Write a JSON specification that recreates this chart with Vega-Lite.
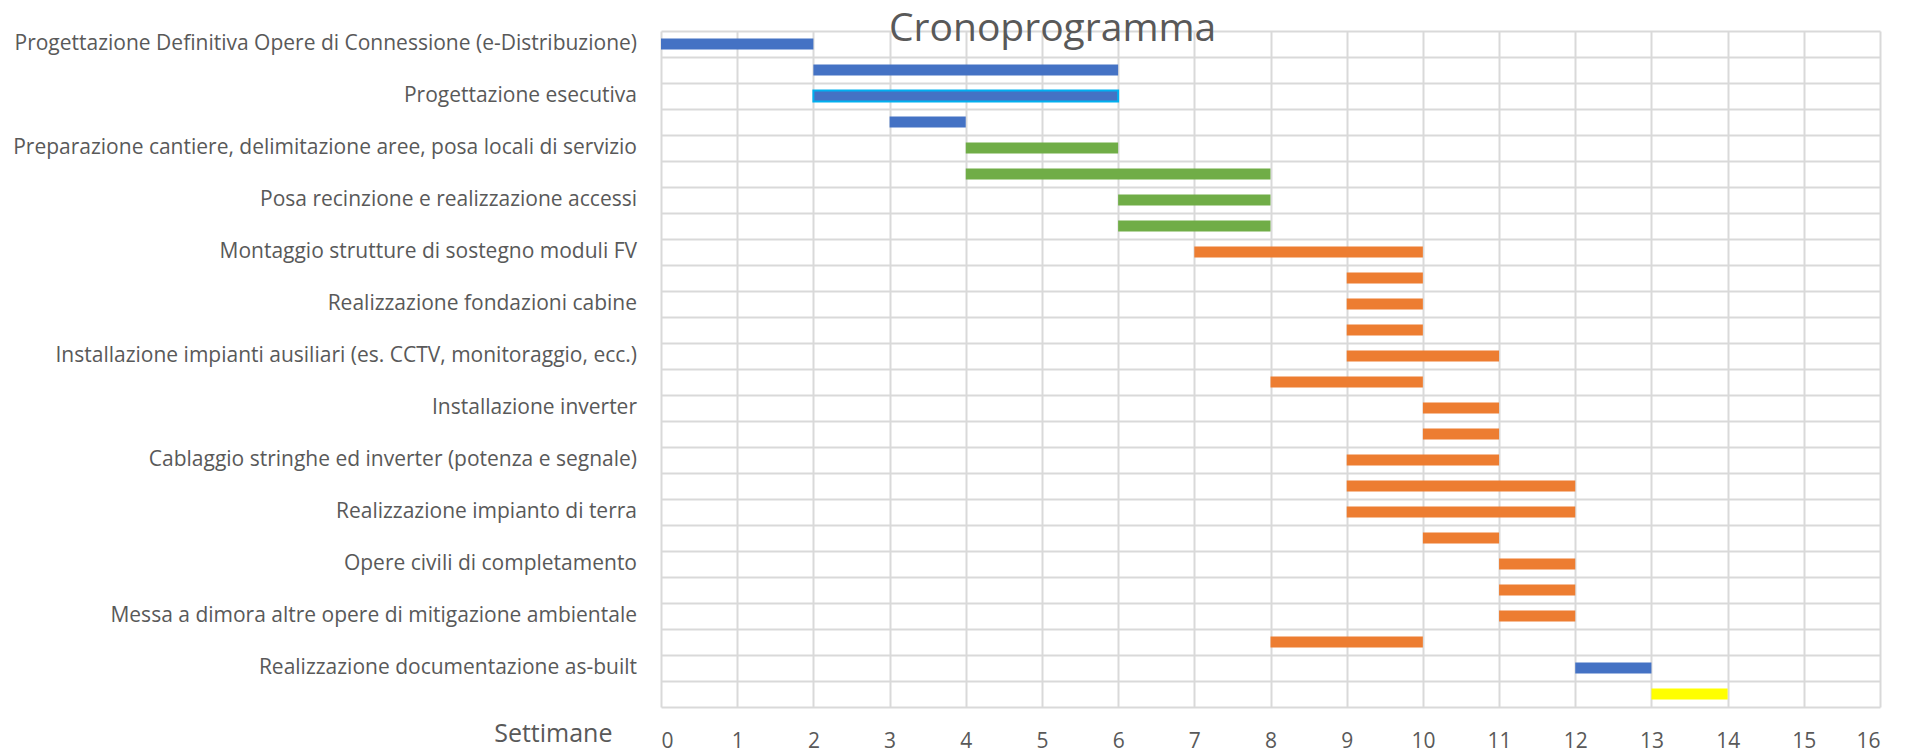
{
  "$schema": "https://vega.github.io/schema/vega-lite/v6.json",
  "autosize": "none",
  "width": 1219,
  "height": 676,
  "padding": {"left": 661, "top": 31, "right": 35, "bottom": 45},
  "background": "white",
  "config": {"view": {"stroke": null}, "font": "Open Sans"},
  "title": {
    "text": "Cronoprogramma",
    "fontSize": 39,
    "font": "Open Sans",
    "fontWeight": "normal",
    "color": "#595959",
    "anchor": "start",
    "frame": "group",
    "dx": 228,
    "baseline": "alphabetic",
    "offset": -49
  },
  "data": {
    "values": [
      {"row": 1, "label": "Progettazione Definitiva Opere di Connessione (e-Distribuzione)", "start": 0, "end": 2, "phase": "A"},
      {"row": 2, "label": "", "start": 2, "end": 6, "phase": "A"},
      {"row": 3, "label": "Progettazione esecutiva", "start": 2, "end": 6, "phase": "A"},
      {"row": 4, "label": "", "start": 3, "end": 4, "phase": "A"},
      {"row": 5, "label": "Preparazione cantiere, delimitazione aree, posa locali di servizio", "start": 4, "end": 6, "phase": "B"},
      {"row": 6, "label": "", "start": 4, "end": 8, "phase": "B"},
      {"row": 7, "label": "Posa recinzione e realizzazione accessi", "start": 6, "end": 8, "phase": "B"},
      {"row": 8, "label": "", "start": 6, "end": 8, "phase": "B"},
      {"row": 9, "label": "Montaggio strutture di sostegno moduli FV", "start": 7, "end": 10, "phase": "C"},
      {"row": 10, "label": "", "start": 9, "end": 10, "phase": "C"},
      {"row": 11, "label": "Realizzazione fondazioni cabine", "start": 9, "end": 10, "phase": "C"},
      {"row": 12, "label": "", "start": 9, "end": 10, "phase": "C"},
      {"row": 13, "label": "Installazione impianti ausiliari (es. CCTV, monitoraggio, ecc.)", "start": 9, "end": 11, "phase": "C"},
      {"row": 14, "label": "", "start": 8, "end": 10, "phase": "C"},
      {"row": 15, "label": "Installazione inverter", "start": 10, "end": 11, "phase": "C"},
      {"row": 16, "label": "", "start": 10, "end": 11, "phase": "C"},
      {"row": 17, "label": "Cablaggio stringhe ed inverter (potenza e segnale)", "start": 9, "end": 11, "phase": "C"},
      {"row": 18, "label": "", "start": 9, "end": 12, "phase": "C"},
      {"row": 19, "label": "Realizzazione impianto di terra", "start": 9, "end": 12, "phase": "C"},
      {"row": 20, "label": "", "start": 10, "end": 11, "phase": "C"},
      {"row": 21, "label": "Opere civili di completamento", "start": 11, "end": 12, "phase": "C"},
      {"row": 22, "label": "", "start": 11, "end": 12, "phase": "C"},
      {"row": 23, "label": "Messa a dimora altre opere di mitigazione ambientale", "start": 11, "end": 12, "phase": "C"},
      {"row": 24, "label": "", "start": 8, "end": 10, "phase": "C"},
      {"row": 25, "label": "Realizzazione documentazione as-built", "start": 12, "end": 13, "phase": "A"},
      {"row": 26, "label": "", "start": 13, "end": 14, "phase": "D"}
    ]
  },
  "encoding": {
    "y": {
      "field": "row",
      "type": "ordinal",
      "sort": "ascending",
      "scale": {"paddingInner": 0, "paddingOuter": 0},
      "axis": {
        "title": null,
        "labels": false,
        "ticks": false,
        "domain": false,
        "grid": true,
        "bandPosition": 0,
        "gridColor": "#d9d9d9",
        "gridWidth": 2
      }
    }
  },
  "layer": [
    {
      "mark": {"type": "bar", "height": {"band": 0.42}},
      "encoding": {
        "x": {
          "field": "start",
          "type": "quantitative",
          "scale": {"domain": [0, 16], "nice": false},
          "axis": {
            "values": [0,1,2,3,4,5,6,7,8,9,10,11,12,13,14,15,16],
            "format": "d",
            "grid": true,
            "gridColor": "#d9d9d9",
            "gridWidth": 2,
            "domain": true,
            "domainColor": "#d9d9d9",
            "domainWidth": 2,
            "ticks": false,
            "labelFont": "Open Sans",
            "labelFontSize": 21,
            "labelColor": "#595959",
            "labelBaseline": "alphabetic",
            "labelPadding": 40,
            "title": "Settimane",
            "titleFont": "Open Sans",
            "titleFontSize": 25,
            "titleFontWeight": "normal",
            "titleColor": "#595959",
            "titleAlign": "right",
            "titleBaseline": "alphabetic",
            "titleX": -49,
            "titleY": 34
          }
        },
        "x2": {"field": "end"},
        "color": {
          "field": "phase",
          "type": "nominal",
          "scale": {"domain": ["A", "B", "C", "D"], "range": ["#4472C4", "#70AD47", "#ED7D31", "#FFFF00"]},
          "legend": null
        },
        "stroke": {"condition": {"test": "datum.row == 3", "value": "#00B0F0"}, "value": null},
        "strokeWidth": {"value": 2}
      }
    },
    {
      "transform": [{"filter": "datum.label != ''"}],
      "mark": {"type": "text", "align": "right", "baseline": "middle", "dx": -24, "font": "Open Sans", "fontSize": 21, "color": "#595959"},
      "encoding": {
        "x": {"datum": 0},
        "text": {"field": "label"}
      }
    }
  ]
}
